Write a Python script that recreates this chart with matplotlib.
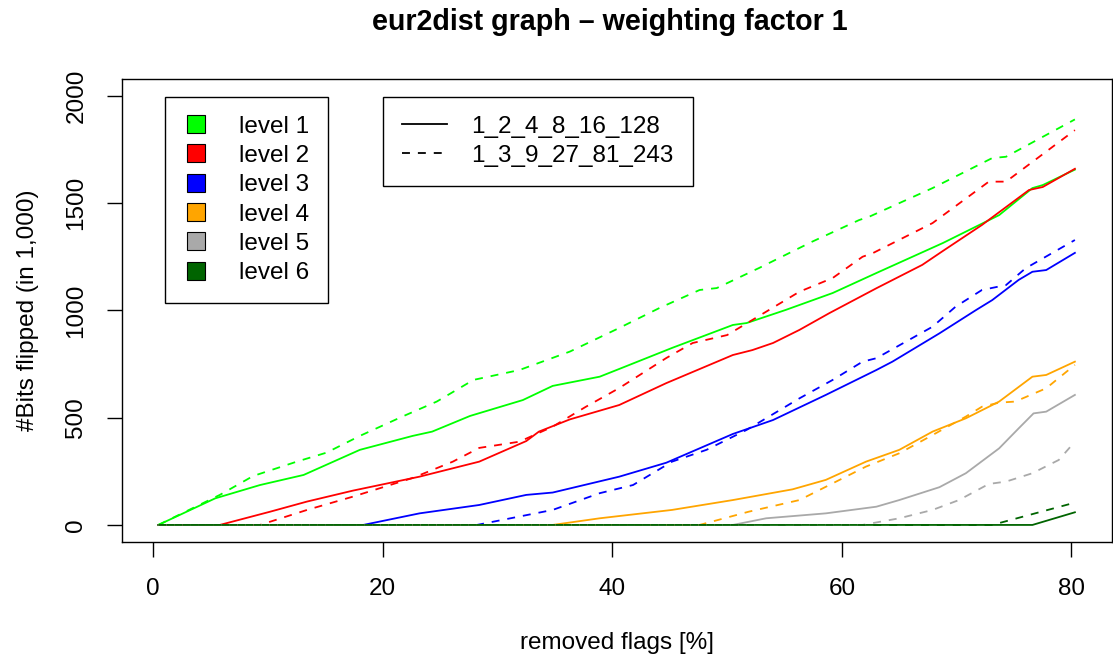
import matplotlib
matplotlib.use("Agg")
import matplotlib.pyplot as plt
from matplotlib.lines import Line2D

plt.rcParams['font.family'] = ['Liberation Sans', 'DejaVu Sans']

# removed flags [%] vs bits flipped, per level, solid = 1_2_4_8_16_128, dashed = 1_3_9_27_81_243
l1_solid_x = [0.44, 5.4, 9.3, 13.1, 18.0, 22.6, 24.3, 27.6, 32.2, 34.8, 38.9, 40.6, 45.2, 50.5, 51.7, 55.1, 59.2, 63.0, 68.8, 73.7, 76.6, 77.5, 80.3]
l1_solid_y = [0, 124, 186, 233, 350, 415, 435, 508, 582, 648, 691, 727, 825, 932, 941, 1002, 1081, 1174, 1314, 1444, 1570, 1584, 1656]
l1_dash_x = [0.44, 5.8, 8.7, 12.5, 15.1, 18.0, 21.7, 24.7, 27.9, 31.9, 36.3, 40.6, 44.1, 47.6, 49.1, 52.8, 57.4, 61.5, 62.4, 67.9, 73.1, 74.3, 80.3]
l1_dash_y = [0, 140, 228, 295, 337, 415, 505, 575, 676, 722, 808, 918, 1011, 1095, 1104, 1198, 1320, 1421, 1437, 1570, 1710, 1716, 1890]

l2_solid_x = [0.44, 5.8, 10.2, 13.4, 17.4, 23.2, 28.4, 32.5, 33.6, 36.3, 40.6, 44.7, 50.5, 52.2, 54.0, 56.3, 58.9, 63.0, 67.0, 68.8, 72.2, 76.3, 77.5, 80.3]
l2_solid_y = [0, 0, 62, 109, 160, 225, 295, 391, 435, 492, 559, 661, 792, 815, 848, 909, 987, 1103, 1212, 1277, 1398, 1561, 1575, 1660]
l2_dash_x = [0.44, 9.3, 13.4, 17.4, 22.6, 26.1, 28.4, 31.9, 34.8, 37.7, 40.6, 44.7, 47.0, 50.0, 52.5, 56.3, 59.2, 61.8, 62.7, 67.9, 72.8, 74.3, 80.3]
l2_dash_y = [0, 0, 70, 132, 219, 295, 359, 388, 458, 551, 638, 778, 848, 885, 965, 1087, 1151, 1250, 1267, 1407, 1600, 1600, 1840]

l3_solid_x = [0.44, 18.3, 23.2, 28.4, 32.5, 34.8, 40.6, 44.7, 47.6, 50.5, 54.0, 58.6, 63.0, 64.4, 68.5, 71.7, 73.1, 75.4, 76.6, 77.8, 80.3]
l3_solid_y = [0, 0, 54, 93, 140, 151, 225, 290, 357, 424, 489, 606, 722, 761, 893, 1002, 1048, 1142, 1180, 1188, 1268]
l3_dash_x = [0.44, 28.2, 34.8, 38.9, 41.8, 45.2, 48.2, 51.7, 56.3, 59.2, 61.8, 63.0, 67.9, 69.9, 72.2, 74.3, 76.0, 80.3]
l3_dash_y = [0, 0, 70, 148, 186, 295, 350, 443, 590, 676, 761, 777, 924, 1017, 1095, 1118, 1196, 1328]

l4_solid_x = [0.44, 34.8, 38.9, 45.2, 50.5, 55.7, 58.6, 62.1, 65.0, 67.9, 70.8, 73.7, 76.6, 77.8, 80.3]
l4_solid_y = [0, 0, 31, 70, 116, 166, 210, 295, 350, 435, 497, 575, 691, 699, 761]
l4_dash_x = [0.44, 47.6, 51.9, 56.3, 59.2, 62.1, 65.0, 67.9, 70.8, 72.2, 73.7, 75.1, 77.8, 80.3]
l4_dash_y = [0, 0, 62, 116, 194, 272, 334, 419, 505, 551, 570, 575, 637, 746]

l5_solid_x = [0.44, 50.5, 53.4, 58.6, 63.0, 65.0, 68.5, 70.8, 73.7, 75.4, 76.7, 77.8, 80.3]
l5_solid_y = [0, 0, 31, 54, 85, 116, 176, 241, 357, 450, 520, 528, 606]
l5_dash_x = [0.44, 61.8, 65.0, 67.9, 70.2, 72.8, 74.3, 76.6, 78.9, 80.3]
l5_dash_y = [0, 0, 31, 70, 116, 191, 202, 241, 303, 388]

l6_solid_x = [0.44, 76.6, 80.3]
l6_solid_y = [0, 0, 59]
l6_dash_x = [0.44, 73.1, 80.3]
l6_dash_y = [0, 0, 104]

level_names = ['level 1', 'level 2', 'level 3', 'level 4', 'level 5', 'level 6']
level_colors = ['#00ff00', '#ff0000', '#0000ff', '#ffa500', '#a9a9a9', '#006400']
schemes = ['1_2_4_8_16_128', '1_3_9_27_81_243']

solid = [(l1_solid_x, l1_solid_y), (l2_solid_x, l2_solid_y), (l3_solid_x, l3_solid_y),
         (l4_solid_x, l4_solid_y), (l5_solid_x, l5_solid_y), (l6_solid_x, l6_solid_y)]
dashed = [(l1_dash_x, l1_dash_y), (l2_dash_x, l2_dash_y), (l3_dash_x, l3_dash_y),
          (l4_dash_x, l4_dash_y), (l5_dash_x, l5_dash_y), (l6_dash_x, l6_dash_y)]

W, H = 1113, 664
fs = 17.5
fig = plt.figure(figsize=(W / 100, H / 100), dpi=100)
ax = fig.add_axes([121.7 / W, 1 - 542 / H, (1111.5 - 121.7) / W, (542 - 79.3) / H])

lw = 1.3
for (x, y), c in zip(solid, level_colors):
    ax.plot(x, y, color=c, lw=lw)
for (x, y), c in zip(dashed, level_colors):
    ax.plot(x, y, color=c, lw=lw, dashes=(4.4, 4.4))

ax.set_xlim(-2.75, 83.49)
ax.set_ylim(-79.5, 2077)
ax.set_xticks([0, 20, 40, 60, 80])
ax.set_yticks([0, 500, 1000, 1500, 2000])
ax.tick_params(labelsize=fs, length=10.8, width=1.0, direction='out')
ax.tick_params(axis='x', pad=15)
ax.tick_params(axis='y', pad=14)
for lab in ax.get_yticklabels():
    lab.set_rotation(90)
    lab.set_va('center')
for s in ax.spines.values():
    s.set_linewidth(1.0)

fig.text(610 / W, 1 - 30 / H, 'eur2dist graph \u2013 weighting factor 1', ha='center', va='baseline',
         fontsize=20.6, fontweight='bold')
fig.text(616.6 / W, 1 - 643 / H, 'removed flags [%]', ha='center', va='center', fontsize=fs)
fig.text(28 / W, 1 - 310.6 / H, '#Bits flipped (in 1,000)', ha='center', va='center', fontsize=fs,
         rotation=90)

lev_handles = [Line2D([], [], ls='none', marker='s', markersize=13, markerfacecolor=c,
                      markeredgecolor='black', markeredgewidth=0.8) for c in level_colors]
leg1 = ax.legend(lev_handles, level_names, loc='upper left', bbox_to_anchor=(165 / W, 1 - 96.7 / H),
                 bbox_transform=fig.transFigure, borderaxespad=0, fontsize=fs, fancybox=False,
                 edgecolor='black', framealpha=1, borderpad=0.78, labelspacing=0.3,
                 handlelength=1.0, handletextpad=1.25)
leg1.get_frame().set_linewidth(1.0)
ax.add_artist(leg1)

sch_handles = [Line2D([], [], color='black', lw=lw),
               Line2D([], [], color='black', lw=lw, dashes=(4.4, 4.4))]
leg2 = ax.legend(sch_handles, schemes, loc='upper left', bbox_to_anchor=(383 / W, 1 - 96.7 / H),
                 bbox_transform=fig.transFigure, borderaxespad=0, fontsize=fs, fancybox=False,
                 edgecolor='black', framealpha=1, borderpad=0.78, labelspacing=0.3,
                 handlelength=1.85, handletextpad=1.0)
leg2.get_frame().set_linewidth(1.0)

fig.savefig('out.png', dpi=100)
